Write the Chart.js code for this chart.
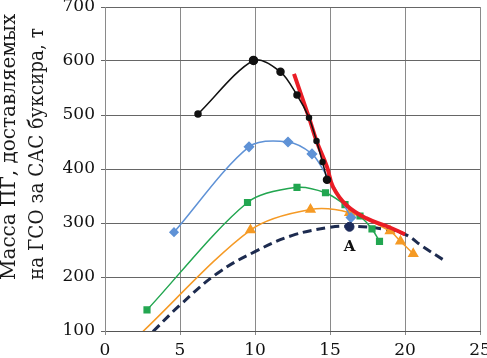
<!DOCTYPE html>
<html>
<head>
<meta charset="utf-8">
<script src="https://cdn.jsdelivr.net/npm/chart.js@4"></script>
<style>
  html, body { margin: 0; padding: 0; background: #fff; }
</style>
</head>
<body>
<canvas id="chart" width="487" height="358"></canvas>
<script>
// values
const yTitle = ['Масса ПГ, доставляемых', 'на ГСО за САС буксира, т'];

const blackX = [6.2, 9.9, 11.7, 12.8, 13.6, 14.1, 14.5, 14.8];
const blackY = [502, 601, 580, 537, 495, 452, 413, 380];
const blackR = [3, 4, 3.5, 3, 2.5, 2.5, 2.5, 3.5];

const blueX = [4.6, 9.6, 12.2, 13.8, 14.6, 15.5, 16.4];
const blueY = [283, 441, 450, 428, 396, 356, 310];
const blueR = [4, 4.5, 4.5, 4.5, 0, 0, 4.5];

const greenX = [2.8, 9.5, 12.8, 14.7, 16.0, 17.0, 17.8, 18.3];
const greenY = [139, 338, 366, 356, 334, 313, 289, 266];

const orangeX = [2.45, 9.7, 13.7, 16.3, 19.0, 19.7, 20.55];
const orangeY = [97, 287, 325, 319, 285, 266, 243];
const orangeR = [0, 5, 5, 5, 5, 5, 5];

const dashX = [3.2, 5, 7.5, 10, 12.5, 15, 16.3, 18.5, 20, 21.2, 22.6];
const dashY = [99, 148, 207, 247, 277, 292, 294, 289, 279, 256, 231];

const redX = [12.6, 13.6, 14.1, 14.8, 15.2, 16.1, 17.4, 18.8, 20.0];
const redY = [576, 495, 452, 404, 367, 333, 309, 294, 279];

const pointA = { x: 16.3, y: 293, label: 'A' };

const zip = (xs, ys) => xs.map((x, i) => ({ x: x, y: ys[i] }));

const serif = '"DejaVu Serif", "Liberation Serif", serif';

const titlePlugin = {
    id: 'titlePlugin',
    afterDraw(chart) {
        const ctx = chart.ctx;
        ctx.save();
        ctx.fillStyle = '#1a1a1a';
        ctx.font = '20px ' + serif;
        ctx.textAlign = 'left';
        ctx.textBaseline = 'alphabetic';
        ctx.translate(0, 280);
        ctx.rotate(-Math.PI / 2);
        ctx.fillText(yTitle[0], 0, 15, 278);
        ctx.fillText(yTitle[1], 0, 43, 252);
        ctx.restore();

        // label under point A
        const px = chart.scales.x.getPixelForValue(pointA.x);
        const py = chart.scales.y.getPixelForValue(pointA.y);
        ctx.save();
        ctx.fillStyle = '#111';
        ctx.font = 'bold 15px ' + serif;
        ctx.textAlign = 'center';
        ctx.textBaseline = 'middle';
        ctx.fillText(pointA.label, px, py + 20);
        ctx.restore();
    }
};

const ctx = document.getElementById('chart').getContext('2d');
new Chart(ctx, {
    type: 'scatter',
    data: {
        datasets: [{
            data: zip(blackX, blackY),
            borderColor: '#111',
            backgroundColor: '#111',
            borderWidth: 1.5,
            pointRadius: blackR,
            showLine: true,
            tension: 0.3,
            order: 0
        },
        {
            data: zip(redX, redY),
            borderColor: '#ea1d26',
            borderWidth: 4,
            pointRadius: 0,
            showLine: true,
            tension: 0.4,
            order: 1
        },
        {
            data: [{ x: pointA.x, y: pointA.y }],
            backgroundColor: '#1d2b5a',
            borderColor: '#1d2b5a',
            pointRadius: 4.5,
            order: 2
        },
        {
            data: zip(blueX, blueY),
            borderColor: '#5f92d6',
            backgroundColor: '#5f92d6',
            borderWidth: 1.5,
            pointStyle: 'rectRot',
            pointRadius: blueR,
            showLine: true,
            tension: 0.3,
            order: 3
        },
        {
            data: zip(greenX, greenY),
            borderColor: '#22a650',
            backgroundColor: '#22a650',
            borderWidth: 1.5,
            pointStyle: 'rect',
            pointRadius: 4,
            showLine: true,
            tension: 0.3,
            order: 4
        },
        {
            data: zip(orangeX, orangeY),
            borderColor: '#f59a25',
            backgroundColor: '#f59a25',
            borderWidth: 1.5,
            pointStyle: 'triangle',
            pointRadius: orangeR,
            showLine: true,
            tension: 0.3,
            order: 5
        },
        {
            data: zip(dashX, dashY),
            borderColor: '#1d2b4f',
            borderWidth: 3,
            borderDash: [9, 5],
            pointRadius: 0,
            showLine: true,
            tension: 0.4,
            order: 6
        }]
    },
    options: {
        responsive: false,
        animation: false,
        layout: { padding: { left: 0, right: 7, top: 7, bottom: 0 } },
        plugins: {
            legend: { display: false },
            tooltip: { enabled: false }
        },
        scales: {
            x: {
                type: 'linear',
                position: 'bottom',
                min: 0,
                max: 25,
                ticks: {
                    stepSize: 5,
                    padding: 5,
                    color: '#111',
                    font: { family: serif, size: 17 },
                    maxRotation: 0
                },
                grid: { color: '#8a8a8a', tickLength: 4 },
                border: { color: '#555' },
                afterFit: s => { s.height = 27; s.paddingLeft = 0; s.paddingRight = 0; }
            },
            y: {
                min: 100,
                max: 700,
                ticks: {
                    stepSize: 100,
                    padding: 6,
                    color: '#111',
                    font: { family: serif, size: 17 }
                },
                grid: { color: '#666', tickLength: 4 },
                border: { color: '#8a8a8a' },
                afterFit: s => { s.width = 105; s.paddingTop = 0; s.paddingBottom = 0; }
            }
        }
    },
    plugins: [titlePlugin]
});
</script>
</body>
</html>
